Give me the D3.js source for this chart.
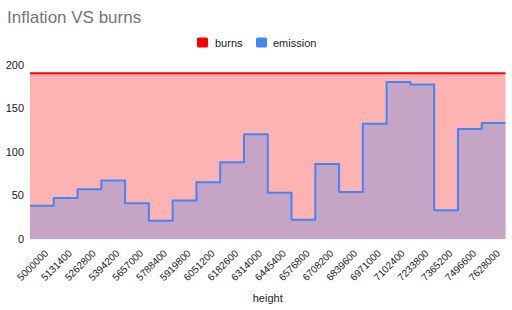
<!DOCTYPE html>
<html>
<head>
<meta charset="utf-8">
<script src="https://cdn.jsdelivr.net/npm/d3@7"></script>
<style>
  html, body { margin: 0; padding: 0; background: #fff; }
  svg { display: block; font-family: Arial, "Liberation Sans", sans-serif; }
</style>
</head>
<body>
<svg id="chart" width="512" height="310"></svg>
<script>
const categories = ["5000000","5131400","5262800","5394200","5657000","5788400","5919800","6051200","6182600","6314000","6445400","6576800","6708200","6839600","6971000","7102400","7233800","7365200","7496600","7628000"];
const burns = [190,190,190,190,190,190,190,190,190,190,190,190,190,190,190,190,190,190,190,190];
const emission = [38,47,57,67,41,21,44,65,88,120,53,22,86,54,132,180,177,33,126,133];
const yTicks = [0,50,100,150,200];
const seriesNames = ["burns","emission"];
const seriesColors = ["#ff0000","#4285f4"];

const svg = d3.select("#chart");
const plotLeft = 30, plotRight = 505.5, plotTop = 64.5, plotBottom = 239;

const x = d3.scaleBand().domain(categories).range([plotLeft, plotRight]).padding(0);
const y = d3.scaleLinear().domain([0, 200]).range([plotBottom, plotTop]);
const bw = x.bandwidth();

function stepPoints(vals) {
  const pts = categories.map((c, i) => [x(c), vals[i]]);
  pts.push([x(categories[categories.length - 1]) + bw, vals[vals.length - 1]]);
  return pts;
}

const area = d3.area().x(d => d[0]).y0(y(0)).y1(d => y(d[1])).curve(d3.curveStepAfter);
const line = d3.line().x(d => d[0]).y(d => y(d[1])).curve(d3.curveStepAfter);

[burns, emission].forEach((vals, k) => {
  const pts = stepPoints(vals);
  svg.append("path").attr("d", area(pts)).attr("fill", seriesColors[k]).attr("fill-opacity", 0.3);
});
[burns, emission].forEach((vals, k) => {
  const pts = stepPoints(vals);
  svg.append("path").attr("d", line(pts)).attr("fill", "none")
    .attr("stroke", seriesColors[k]).attr("stroke-width", 2).attr("stroke-linejoin", "round");
});

// Y axis labels
const yAxis = d3.axisLeft(y).tickValues(yTicks).tickSize(0).tickPadding(0);
const yg = svg.append("g").attr("transform", `translate(24,0)`).call(yAxis);
yg.select(".domain").remove();
yg.selectAll("text").attr("font-size", 11).attr("fill", "#222").attr("font-family", "Arial, 'Liberation Sans', sans-serif");

// X axis labels (slanted)
const xAxis = d3.axisBottom(x).tickSize(0).tickPadding(0);
const xg = svg.append("g").attr("transform", `translate(0,${plotBottom})`).call(xAxis);
xg.select(".domain").remove();
xg.selectAll("text")
  .attr("font-size", 10).attr("fill", "#222").attr("font-family", "Arial, 'Liberation Sans', sans-serif")
  .attr("text-anchor", "end").attr("dy", null).attr("y", 0)
  .attr("transform", "translate(7,15) rotate(-45)");

// Axis title
svg.append("text").attr("x", (plotLeft + plotRight) / 2).attr("y", 302).attr("text-anchor", "middle")
  .attr("font-size", 11).attr("fill", "#222").text("height");

// Title
svg.append("text").attr("x", 7).attr("y", 23).attr("font-size", 17).attr("fill", "#757575")
  .text("Inflation VS burns");

// Legend
const legendItems = [{x: 197, tx: 215}, {x: 256, tx: 273}];
seriesNames.forEach((n, i) => {
  svg.append("rect").attr("x", legendItems[i].x).attr("y", 37.5).attr("width", 11).attr("height", 10)
    .attr("rx", 1.5).attr("fill", seriesColors[i]);
  svg.append("text").attr("x", legendItems[i].tx).attr("y", 46.5).attr("font-size", 11).attr("fill", "#222").text(n);
});
</script>
</body>
</html>
